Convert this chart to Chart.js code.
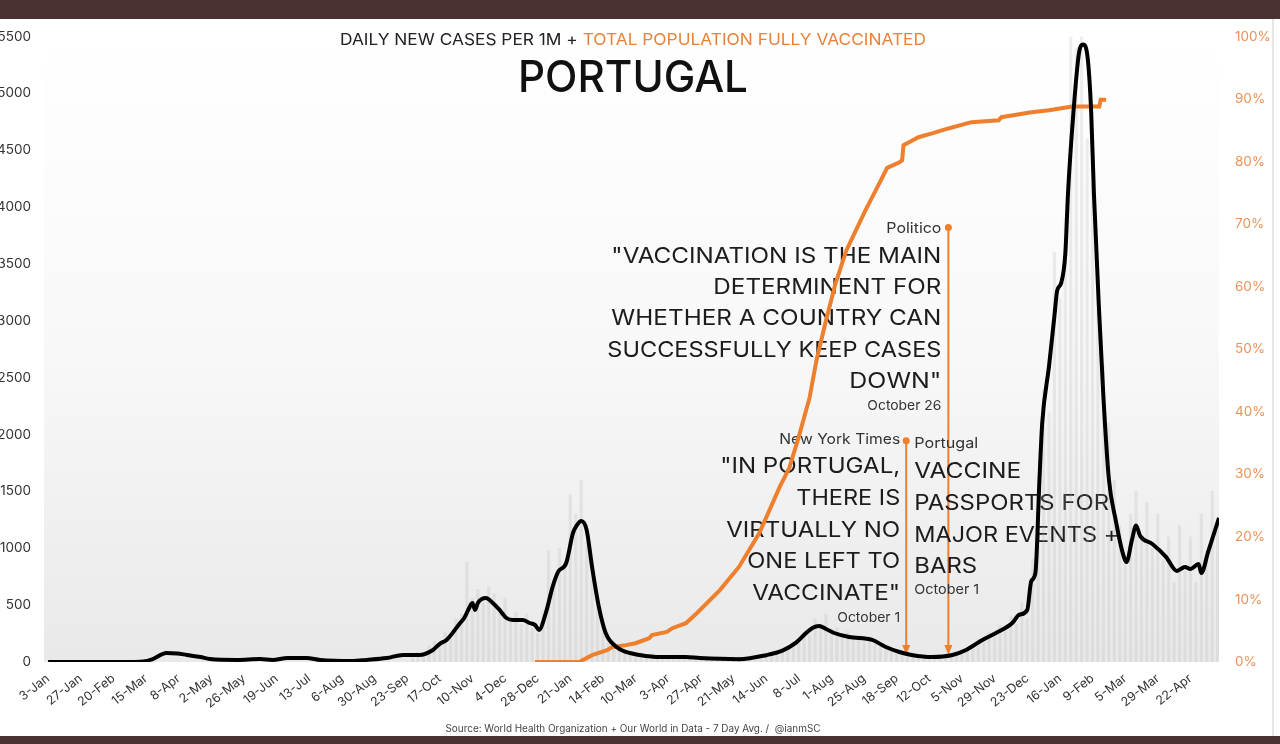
<!DOCTYPE html>
<html>
<head>
<meta charset="utf-8">
<script src="https://cdn.jsdelivr.net/npm/chart.js@4.4.1/dist/chart.umd.min.js"></script>
<style>
  html, body { margin: 0; padding: 0; background: #fff; }
  body { width: 1280px; height: 744px; overflow: hidden; position: relative; }
  .band { position: absolute; left: 0; width: 1280px; background: #4a3232; }
  #top { top: 0; height: 19px; }
  #bottom { top: 736px; height: 8px; }
  #edge { position: absolute; left: 1272px; top: 19px; width: 2px; height: 717px; background: #e6e6e6; }
  #wrap { position: absolute; left: 0; top: 19px; width: 1280px; height: 717px; }
</style>
</head>
<body>
<div class="band" id="top"></div>
<div id="wrap"><canvas id="chart"></canvas></div>
<div id="edge"></div>
<div class="band" id="bottom"></div>
<script>
// x axis is in days counted from 3-Jan-2020
const tickDays = [0, 24, 48, 72, 96, 120, 144, 168, 192, 216, 240, 264, 288, 312, 336, 360, 384, 408,
  432, 456, 480, 504, 528, 552, 576, 600, 624, 648, 672, 696, 720, 744, 768, 792, 816, 840];
const tickLabels = ['3-Jan', '27-Jan', '20-Feb', '15-Mar', '8-Apr', '2-May', '26-May', '19-Jun', '13-Jul',
  '6-Aug', '30-Aug', '23-Sep', '17-Oct', '10-Nov', '4-Dec', '28-Dec', '21-Jan', '14-Feb', '10-Mar',
  '3-Apr', '27-Apr', '21-May', '14-Jun', '8-Jul', '1-Aug', '25-Aug', '18-Sep', '12-Oct', '5-Nov',
  '29-Nov', '23-Dec', '16-Jan', '9-Feb', '5-Mar', '29-Mar', '22-Apr'];

// daily new cases per 1M, 7 day average (black line)
const caseDays = [0, 60, 70, 77, 87, 95, 102, 112, 119, 139,
  156, 165, 176, 190, 200, 224, 234, 249, 261, 273,
  283, 288, 293, 303, 306, 310, 312, 314, 316, 322,
  327, 332, 337, 342, 349, 354, 358, 361, 366, 371,
  375, 381, 386, 389, 392, 396, 400, 405, 410, 418,
  425, 435, 450, 469, 479, 508, 528, 540, 550, 557,
  562, 567, 572, 578, 589, 606, 616, 626, 635, 650,
  665, 675, 687, 697, 709, 714, 720, 723, 726, 729,
  731, 736, 740, 742, 745, 748, 750, 754, 758, 761,
  764, 767, 769, 773, 776, 780, 785, 790, 793, 797,
  800, 803, 812, 822, 830, 836, 840, 846, 848, 853,
  861];
const cases = [0, 0, 4, 26, 79, 75, 62, 44, 26, 18,
  26, 18, 35, 35, 18, 9, 18, 35, 62, 62,
  106, 160, 194, 343, 387, 484, 519, 458, 519, 563,
  519, 458, 387, 370, 370, 343, 326, 282, 431, 660,
  792, 871, 1135, 1206, 1240, 1162, 836, 484, 255, 132,
  88, 62, 44, 44, 35, 25, 60, 100, 170, 250,
  300, 317, 290, 255, 220, 194, 132, 88, 62, 44,
  62, 106, 194, 255, 343, 414, 458, 713, 783, 1610,
  2100, 2600, 3045, 3265, 3335, 3590, 4127, 4840, 5350, 5430,
  5350, 4840, 4127, 3045, 2332, 1610, 1250, 968, 880, 1074,
  1200, 1109, 1038, 924, 801, 836, 818, 861, 783, 968,
  1267];

// daily reported cases per 1M (grey columns)
const barDays = [268, 272, 276, 280, 284, 288, 292, 296, 300, 304,
  308, 312, 316, 320, 324, 328, 332, 336, 340, 344,
  348, 352, 356, 360, 364, 368, 372, 376, 380, 384,
  388, 392, 396, 400, 404, 408, 412, 416, 420, 424,
  428, 432, 436, 440, 444, 448, 452, 456, 460, 464,
  468, 472, 476, 480, 484, 488, 492, 496, 500, 504,
  508, 512, 516, 520, 524, 528, 532, 536, 540, 544,
  548, 552, 556, 560, 564, 568, 572, 576, 580, 584,
  588, 592, 596, 600, 604, 608, 612, 616, 620, 624,
  628, 632, 636, 640, 644, 648, 652, 656, 660, 664,
  668, 672, 676, 680, 684, 688, 692, 696, 700, 704,
  708, 712, 716, 720, 724, 728, 732, 736, 740, 744,
  748, 752, 756, 760, 764, 768, 772, 776, 780, 784,
  788, 792, 796, 800, 804, 808, 812, 816, 820, 824,
  828, 832, 836, 840, 844, 848, 852, 856, 860];
const barCases = [50, 90, 70, 140, 180, 150, 260, 230, 380, 420,
  880, 560, 640, 520, 660, 600, 420, 560, 380, 440,
  330, 420, 300, 250, 450, 980, 720, 1000, 820, 1470,
  1300, 1600, 1050, 900, 520, 380, 230, 180, 120, 100,
  80, 70, 60, 50, 70, 40, 55, 45, 60, 40,
  55, 40, 50, 35, 45, 30, 40, 30, 40, 35,
  45, 30, 45, 40, 60, 50, 80, 70, 120, 110,
  180, 170, 260, 240, 380, 330, 420, 260, 300, 220,
  270, 200, 240, 180, 220, 160, 170, 110, 120, 80,
  90, 60, 70, 50, 60, 40, 55, 45, 60, 50,
  80, 70, 120, 110, 200, 170, 260, 220, 320, 280,
  400, 330, 520, 380, 900, 1400, 2400, 2200, 3600, 3200,
  3900, 5500, 5400, 5500, 4600, 4200, 3400, 2600, 2100, 1600,
  1200, 900, 1300, 1500, 1100, 1400, 1000, 1300, 900, 1100,
  700, 1200, 800, 1100, 700, 1300, 900, 1500, 1250];

// total population fully vaccinated, % (orange line)
const vaxDays = [358, 391, 393, 400, 411, 415, 425, 432, 442, 444,
  455, 459, 469, 477, 494, 508, 523, 538, 545, 552,
  560, 565, 572, 579, 587, 594, 601, 610, 617, 626,
  628, 629, 640, 650, 662, 679, 699, 701, 723, 736,
  753, 773, 774, 778];
const vax = [0, 0, 0.3, 1.1, 1.9, 2.4, 2.7, 3.0, 3.8, 4.3,
  4.8, 5.4, 6.2, 7.8, 11.5, 15.2, 20.6, 28, 31, 36,
  42.3, 48.2, 54.6, 60.5, 65.8, 69, 72.2, 76, 79, 79.9,
  80.2, 82.6, 83.9, 84.5, 85.3, 86.3, 86.6, 87.1, 87.9, 88.2,
  88.8, 88.8, 89.9, 89.9];

const FONT = 'Inter, "Noto Sans", sans-serif';
const ORANGE = '#EE7F2D';

// quote callouts: arrow day, top of arrow (cases axis)
const callouts = [
  { day: 662, top: 3820 },   // Politico, October 26
  { day: 631, top: 1945 }    // New York Times / Portugal, October 1
];

// draw text squeezed/stretched horizontally to the width it has in the original
function fitText(ctx, text, x, y, align, size, width, color, weight) {
  ctx.save();
  ctx.font = (weight || 400) + ' ' + size + 'px ' + FONT;
  const w = ctx.measureText(text).width;
  let sx = width ? width / w : 1;
  sx = Math.max(0.8, Math.min(1.2, sx));
  ctx.translate(x, y);
  ctx.scale(sx, 1);
  ctx.textAlign = align;
  ctx.textBaseline = 'middle';
  ctx.fillStyle = color;
  ctx.fillText(text, 0, 0);
  ctx.restore();
}

const backdrop = {
  id: 'backdrop',
  beforeDraw(chart) {
    const { ctx, chartArea: a } = chart;
    const g = ctx.createLinearGradient(0, a.top, 0, a.bottom);
    g.addColorStop(0, '#ffffff');
    g.addColorStop(0.5, '#f8f8f8');
    g.addColorStop(1, '#e9e9e9');
    ctx.save();
    ctx.fillStyle = g;
    ctx.fillRect(a.left, a.top, a.right - a.left, a.bottom - a.top);
    ctx.restore();
  }
};

const notes = {
  id: 'notes',
  beforeDatasetsDraw(chart) {
    const { ctx, chartArea: a, scales } = chart;
    const py = v => a.top + (v - 36.5) * (a.bottom - a.top) / 625.5;   // original picture y -> canvas y
    const xs = callouts.map(c => scales.x.getPixelForValue(c.day));

    // arrows
    ctx.save();
    ctx.strokeStyle = ORANGE;
    ctx.fillStyle = ORANGE;
    ctx.lineWidth = 2;
    callouts.forEach((c, i) => {
      const x = xs[i];
      const y0 = scales.y.getPixelForValue(c.top);
      const y1 = scales.y.getPixelForValue(80);
      ctx.beginPath(); ctx.moveTo(x, y0); ctx.lineTo(x, y1 - 6); ctx.stroke();
      ctx.beginPath(); ctx.arc(x, y0, 3.5, 0, Math.PI * 2); ctx.fill();
      ctx.beginPath(); ctx.moveTo(x, y1 + 2); ctx.lineTo(x - 4, y1 - 8); ctx.lineTo(x + 4, y1 - 8); ctx.closePath(); ctx.fill();
    });
    ctx.restore();

    const dark = '#1c1c1c';
    const grey = '#333';
    // Politico
    let r = xs[0] - 7;
    fitText(ctx, 'Politico', r, py(229), 'right', 14.5, 55, grey);
    fitText(ctx, '"VACCINATION IS THE MAIN', r, py(256), 'right', 22, 330, dark);
    fitText(ctx, 'DETERMINENT FOR', r, py(287), 'right', 22, 228, dark);
    fitText(ctx, 'WHETHER A COUNTRY CAN', r, py(318), 'right', 22, 330, dark);
    fitText(ctx, 'SUCCESSFULLY KEEP CASES', r, py(350), 'right', 22, 334, dark);
    fitText(ctx, 'DOWN"', r, py(381), 'right', 22, 92, dark);
    fitText(ctx, 'October 26', r, py(406), 'right', 13.5, 74, grey);

    // New York Times
    r = xs[1] - 6;
    fitText(ctx, 'New York Times', r, py(440), 'right', 14.5, 121, grey);
    fitText(ctx, '"IN PORTUGAL,', r, py(466), 'right', 22, 180, dark);
    fitText(ctx, 'THERE IS', r, py(498), 'right', 22, 104, dark);
    fitText(ctx, 'VIRTUALLY NO', r, py(530), 'right', 22, 174, dark);
    fitText(ctx, 'ONE LEFT TO', r, py(561), 'right', 22, 153, dark);
    fitText(ctx, 'VACCINATE"', r, py(593), 'right', 22, 148, dark);
    fitText(ctx, 'October 1', r, py(618), 'right', 13.5, 63, grey);

    // Portugal
    const l = xs[1] + 8;
    fitText(ctx, 'Portugal', l, py(444), 'left', 14.5, 64, grey);
    fitText(ctx, 'VACCINE', l, py(471), 'left', 22, 107, dark);
    fitText(ctx, 'PASSPORTS FOR', l, py(503), 'left', 22, 195, dark);
    fitText(ctx, 'MAJOR EVENTS +', l, py(535), 'left', 22, 205, dark);
    fitText(ctx, 'BARS', l, py(566), 'left', 22, 63, dark);
    fitText(ctx, 'October 1', l, py(590), 'left', 13.5, 65, grey);
  },
  afterDraw(chart) {
    const { ctx, chartArea: a } = chart;
    const py = v => a.top + (v - 36.5) * (a.bottom - a.top) / 625.5;
    // title in two colours, centred
    const p1 = 'DAILY NEW CASES PER 1M + ';
    const p2 = 'TOTAL POPULATION FULLY VACCINATED';
    ctx.save();
    ctx.font = '400 16.5px ' + FONT;
    const w1 = ctx.measureText(p1).width;
    const w2 = ctx.measureText(p2).width;
    const sx = 586 / (w1 + w2);
    ctx.translate(633 - 293, py(40));
    ctx.scale(sx, 1);
    ctx.textBaseline = 'middle';
    ctx.textAlign = 'left';
    ctx.fillStyle = '#222';
    ctx.fillText(p1, 0, 0);
    ctx.fillStyle = '#E8823A';
    ctx.fillText(p2, w1, 0);
    ctx.restore();

    fitText(ctx, 'PORTUGAL', 633, py(79), 'center', 44, 230, '#111', 500);
    fitText(ctx, 'Source: World Health Organization + Our World in Data - 7 Day Avg. /  @ianmSC',
      633, chart.height - 7, 'center', 10, 375, '#444');
  }
};

// fixed axis sizes so the plot area sits where it does in the original
const fitY = w => axis => { axis.width = w; axis.paddingTop = 0; axis.paddingBottom = 0; };

new Chart(document.getElementById('chart'), {
  type: 'line',
  data: {
    datasets: [
      {
        type: 'line',
        label: 'Daily new cases per 1M (7 day avg.)',
        data: caseDays.map((d, i) => ({ x: d, y: cases[i] })),
        borderColor: '#000',
        borderWidth: 4,
        pointRadius: 0,
        cubicInterpolationMode: 'monotone',
        yAxisID: 'y',
        order: 1
      },
      {
        type: 'line',
        label: 'Total population fully vaccinated',
        data: vaxDays.map((d, i) => ({ x: d, y: vax[i] })),
        borderColor: ORANGE,
        borderWidth: 4,
        pointRadius: 0,
        tension: 0,
        yAxisID: 'y2',
        order: 2
      },
      {
        type: 'bar',
        label: 'Daily new cases per 1M',
        data: barDays.map((d, i) => ({ x: d, y: barCases[i] })),
        backgroundColor: 'rgba(170,170,170,0.2)',
        barThickness: 2.5,
        grouped: false,
        yAxisID: 'y',
        order: 3
      }
    ]
  },
  options: {
    responsive: true,
    maintainAspectRatio: false,
    animation: false,
    layout: { padding: { top: 17.5, left: 0, right: 0, bottom: 0 } },
    plugins: { legend: { display: false }, tooltip: { enabled: false } },
    scales: {
      x: {
        type: 'linear',
        min: -3,
        max: 861,
        offset: false,
        grid: { display: false, drawTicks: false },
        border: { display: false },
        afterBuildTicks: axis => { axis.ticks = tickDays.map(v => ({ value: v })); },
        afterFit: axis => { axis.height = 74; axis.paddingLeft = 0; axis.paddingRight = 0; },
        ticks: {
          autoSkip: false,
          maxRotation: 38,
          minRotation: 38,
          padding: 9,
          color: '#333',
          font: { family: FONT, size: 12.5 },
          callback: (v, i) => tickLabels[i]
        }
      },
      y: {
        position: 'left',
        min: 0,
        max: 5500,
        grid: { display: false, drawTicks: false },
        border: { display: false },
        afterFit: fitY(44),
        ticks: {
          stepSize: 500,
          padding: 13,
          color: '#333',
          font: { family: FONT, size: 13.5 },
          callback: v => String(v)
        }
      },
      y2: {
        position: 'right',
        min: 0,
        max: 100,
        grid: { display: false, drawTicks: false },
        border: { display: false },
        afterFit: fitY(61),
        ticks: {
          stepSize: 10,
          padding: 16,
          color: '#EB9258',
          font: { family: FONT, size: 13.5 },
          callback: v => v + '%'
        }
      }
    }
  },
  plugins: [backdrop, notes]
});
</script>
</body>
</html>
